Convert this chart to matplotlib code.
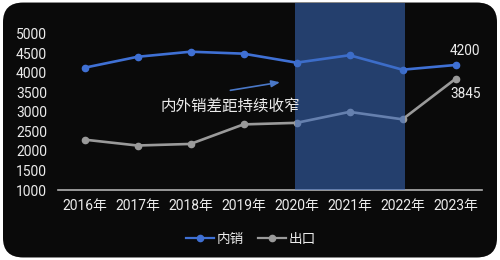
import matplotlib.pyplot as plt
import matplotlib.patches as patches
import numpy as np

plt.rcParams["font.family"] = ["Roboto", "Noto Sans CJK SC", "DejaVu Sans"]

years = ["2016年", "2017年", "2018年", "2019年", "2020年", "2021年", "2022年", "2023年"]
domestic = [4130, 4410, 4540, 4490, 4260, 4450, 4080, 4200]
export = [2290, 2140, 2180, 2680, 2720, 3000, 2810, 3845]
yticks = [1000, 1500, 2000, 2500, 3000, 3500, 4000, 4500, 5000]

BLUE = "#3f70d4"
GRAY = "#9a9a9a"
TEXT = "#ececec"
CJK = ["Noto Sans CJK SC", "DejaVu Sans"]

fig = plt.figure(figsize=(5, 2.6), dpi=100, facecolor="white")

# dark rounded card with a soft gradient
card = patches.FancyBboxPatch(
    (0.006, 0.01), 0.988, 0.98,
    boxstyle="round,pad=0,rounding_size=0.04",
    transform=fig.transFigure, facecolor="#0a0a0a", edgecolor="none",
    mutation_aspect=1.9,
)
bg = fig.add_axes([0, 0, 1, 1], zorder=0)
bg.axis("off")
bg.add_patch(card)
gx, gy = np.meshgrid(np.linspace(0, 1, 200), np.linspace(0, 1, 100))
grad = np.clip(1 - (gx * 0.9 + (1 - gy) * 0.5), 0, 1)
img = bg.imshow(grad, extent=[0, 1, 0, 1], cmap="gray", vmin=-4.0, vmax=2.4,
                aspect="auto", origin="lower")
img.set_clip_path(card)
bg.set_xlim(0, 1)
bg.set_ylim(0, 1)

ax = fig.add_axes([0.116, 0.269, 0.848, 0.72], zorder=1)
ax.patch.set_alpha(0)
x = np.arange(len(years))

ax.plot(x, domestic, color=BLUE, lw=1.9, marker="o", ms=4.5, label="内销", zorder=3)
ax.plot(x, export, color=GRAY, lw=1.9, marker="o", ms=4.5, label="出口", zorder=3)
ax.axvspan(3.97, 6.05, color="#3b6bc0", alpha=0.55, lw=0, zorder=4)

ax.set_xlim(-0.5, len(years) - 0.5)
ax.set_ylim(1000, 5790)
ax.set_xticks(x)
ax.set_xticklabels(years)
ax.set_yticks(yticks)
ax.tick_params(axis="both", length=0, colors=TEXT, labelsize=10)
ax.tick_params(axis="y", pad=8)
ax.tick_params(axis="x", pad=6.5)
for s in ["top", "right", "left"]:
    ax.spines[s].set_visible(False)
ax.spines["bottom"].set_color("#b0b0b0")
ax.spines["bottom"].set_linewidth(1.2)

ax.annotate(f"{domestic[-1]}", (x[-1], domestic[-1]), xytext=(7, 10),
            textcoords="offset points", ha="center", va="center",
            color=TEXT, fontsize=9.8)
ax.annotate(f"{export[-1]}", (x[-1], export[-1]), xytext=(7, -11),
            textcoords="offset points", ha="center", va="center",
            color=TEXT, fontsize=9.8)

ax.annotate("", xy=(3.74, 3770), xytext=(2.7, 3540),
            arrowprops=dict(arrowstyle="-|>,head_length=0.5,head_width=0.2",
                            color="#4a78c8", lw=1.2), zorder=5)
ax.text(1.43, 3150, "内外销差距持续收窄", color=TEXT, fontsize=11.2,
        family=CJK, fontweight="medium", ha="left", va="center", zorder=5)

leg = fig.legend(loc="center", bbox_to_anchor=(0.502, 0.08), ncol=2,
                 frameon=False, prop={"family": CJK, "size": 9.8},
                 handlelength=2.1, handletextpad=0.2, columnspacing=1.0)
for t in leg.get_texts():
    t.set_color(TEXT)
for h in leg.legend_handles:
    h.set_linewidth(1.6)

fig.savefig("out.png", dpi=100, facecolor="white")
